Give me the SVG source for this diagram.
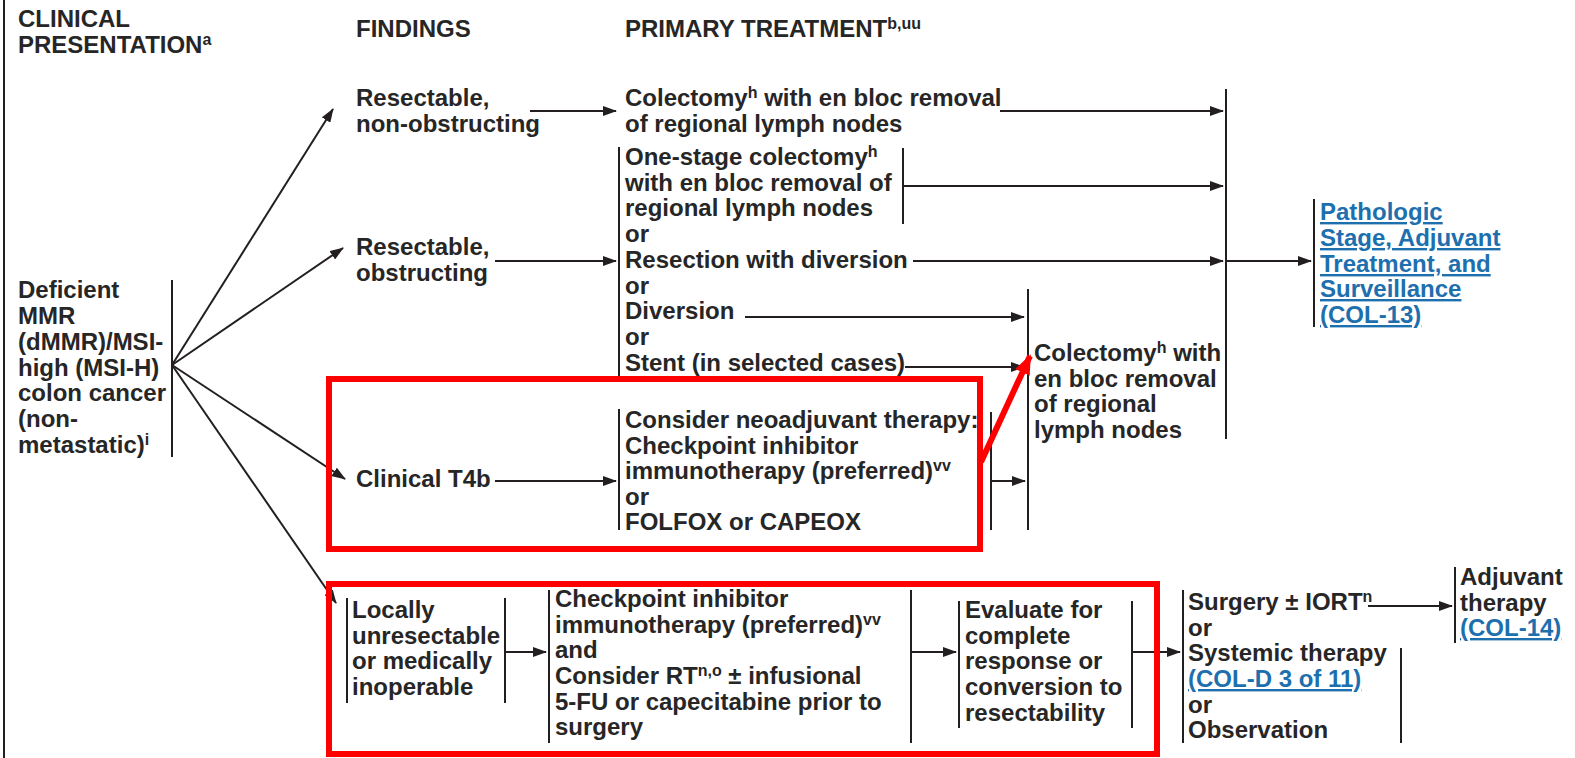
<svg xmlns="http://www.w3.org/2000/svg" width="1575" height="758" viewBox="0 0 1575 758">
<style>
.t{font-family:"Liberation Sans",Arial,sans-serif;font-size:24px;font-weight:bold;fill:#262626}
.s{font-size:16px}
.lk{fill:#1d6fae;text-decoration:underline}
.ln{stroke:#231f20;stroke-width:2;fill:none}
.a{marker-end:url(#ah)}
.red{stroke:#ff0000;stroke-width:6;fill:none}
</style>
<defs>
<marker id="ah" markerUnits="userSpaceOnUse" markerWidth="14" markerHeight="10" refX="13" refY="5" orient="auto"><path d="M0,0 L14,5 L0,10 z" fill="#231f20"/></marker>
<marker id="rah" markerUnits="userSpaceOnUse" markerWidth="20" markerHeight="16" refX="18" refY="8" orient="auto"><path d="M0,0 L20,8 L0,16 z" fill="#ff0000"/></marker>
</defs>
<rect width="1575" height="758" fill="#fff"/>
<line class="ln" x1="4" y1="0" x2="4" y2="758"/>

<g id="headers" class="t">
<text x="18" y="27">CLINICAL</text>
<text x="18" y="53">PRESENTATION<tspan class="s" dy="-8">a</tspan></text>
<text x="356" y="37">FINDINGS</text>
<text x="625" y="37">PRIMARY TREATMENT<tspan class="s" dy="-8">b,uu</tspan></text>
</g>

<g id="n-presentation" class="t">
<text x="18" y="298">Deficient</text>
<text x="18" y="324">MMR</text>
<text x="18" y="350">(dMMR)/MSI-</text>
<text x="18" y="376">high (MSI-H)</text>
<text x="18" y="401">colon cancer</text>
<text x="18" y="427">(non-</text>
<text x="18" y="453">metastatic)<tspan class="s" dy="-8">i</tspan></text>
<line class="ln" x1="172" y1="280" x2="172" y2="457"/>
</g>

<g id="n-resectable-nonobs" class="t">
<text x="356" y="106">Resectable,</text>
<text x="356" y="132">non-obstructing</text>
</g>
<g id="n-colectomy1" class="t">
<text x="625" y="106">Colectomy<tspan class="s" dy="-8">h</tspan><tspan dy="8"> with en bloc removal</tspan></text>
<text x="625" y="132">of regional lymph nodes</text>
</g>

<g id="n-resectable-obs" class="t">
<text x="356" y="255">Resectable,</text>
<text x="356" y="281">obstructing</text>
</g>
<g id="n-obs-options" class="t">
<line class="ln" x1="619" y1="147" x2="619" y2="376"/>
<text x="625" y="165">One-stage colectomy<tspan class="s" dy="-8">h</tspan></text>
<text x="625" y="191">with en bloc removal of</text>
<text x="625" y="216">regional lymph nodes</text>
<text x="625" y="242">or</text>
<text x="625" y="268">Resection with diversion</text>
<text x="625" y="294">or</text>
<text x="625" y="319">Diversion</text>
<text x="625" y="345">or</text>
<text x="625" y="371">Stent (in selected cases)</text>
<line class="ln" x1="903" y1="148" x2="903" y2="224"/>
</g>

<g id="n-colectomy2" class="t">
<line class="ln" x1="1028" y1="289" x2="1028" y2="530"/>
<text x="1034" y="361">Colectomy<tspan class="s" dy="-8">h</tspan><tspan dy="8"> with</tspan></text>
<text x="1034" y="387">en bloc removal</text>
<text x="1034" y="412">of regional</text>
<text x="1034" y="438">lymph nodes</text>
</g>

<g id="n-pathologic" class="t">
<line class="ln" x1="1314" y1="199" x2="1314" y2="327"/>
<text class="lk" x="1320" y="220">Pathologic </text>
<text class="lk" x="1320" y="246">Stage, Adjuvant </text>
<text class="lk" x="1320" y="272">Treatment, and </text>
<text class="lk" x="1320" y="297">Surveillance</text>
<text class="lk" x="1320" y="323">(COL-13)</text>
</g>

<g id="n-t4b" class="t">
<text x="356" y="487">Clinical T4b</text>
</g>
<g id="n-neoadjuvant" class="t">
<line class="ln" x1="619" y1="409" x2="619" y2="530"/>
<text x="625" y="428">Consider neoadjuvant therapy:</text>
<text x="625" y="454">Checkpoint inhibitor</text>
<text x="625" y="479">immunotherapy (preferred)<tspan class="s" dy="-8">vv</tspan></text>
<text x="625" y="505">or</text>
<text x="625" y="530">FOLFOX or CAPEOX</text>
<line class="ln" x1="991" y1="412" x2="991" y2="530"/>
</g>

<g id="n-locally" class="t">
<line class="ln" x1="347" y1="598" x2="347" y2="703"/>
<text x="352" y="618">Locally</text>
<text x="352" y="644">unresectable</text>
<text x="352" y="669">or medically</text>
<text x="352" y="695">inoperable</text>
<line class="ln" x1="505" y1="598" x2="505" y2="703"/>
</g>
<g id="n-checkpoint" class="t">
<line class="ln" x1="549" y1="590" x2="549" y2="743"/>
<text x="555" y="607">Checkpoint inhibitor</text>
<text x="555" y="633">immunotherapy (preferred)<tspan class="s" dy="-8">vv</tspan></text>
<text x="555" y="658">and</text>
<text x="555" y="684">Consider RT<tspan class="s" dy="-8">n,o</tspan><tspan dy="8"> ± infusional</tspan></text>
<text x="555" y="710">5-FU or capecitabine prior to</text>
<text x="555" y="735">surgery</text>
<line class="ln" x1="911" y1="590" x2="911" y2="743"/>
</g>
<g id="n-evaluate" class="t">
<line class="ln" x1="959" y1="601" x2="959" y2="728"/>
<text x="965" y="618">Evaluate for</text>
<text x="965" y="644">complete</text>
<text x="965" y="669">response or</text>
<text x="965" y="695">conversion to</text>
<text x="965" y="721">resectability</text>
<line class="ln" x1="1132" y1="601" x2="1132" y2="728"/>
</g>
<g id="n-surgery" class="t">
<line class="ln" x1="1183" y1="590" x2="1183" y2="743"/>
<text x="1188" y="610">Surgery ± IORT<tspan class="s" dy="-8">n</tspan></text>
<text x="1188" y="636">or</text>
<text x="1188" y="661">Systemic therapy</text>
<text class="lk" x="1188" y="687">(COL-D 3 of 11)</text>
<text x="1188" y="713">or</text>
<text x="1188" y="738">Observation</text>
<line class="ln" x1="1401" y1="648" x2="1401" y2="743"/>
</g>
<g id="n-adjuvant" class="t">
<line class="ln" x1="1455" y1="567" x2="1455" y2="643"/>
<text x="1460" y="585">Adjuvant</text>
<text x="1460" y="611">therapy</text>
<text class="lk" x="1460" y="636">(COL-14)</text>
</g>

<g id="connectors">
<line class="ln a" x1="172" y1="365" x2="333" y2="109"/>
<line class="ln a" x1="172" y1="365" x2="343" y2="248"/>
<line class="ln a" x1="172" y1="365" x2="345" y2="479"/>
<line class="ln a" x1="172" y1="365" x2="336" y2="603"/>
<line class="ln a" x1="530" y1="111" x2="616" y2="111"/>
<line class="ln a" x1="1000" y1="111" x2="1223" y2="111"/>
<line class="ln a" x1="495" y1="261" x2="616" y2="261"/>
<line class="ln a" x1="903" y1="186" x2="1223" y2="186"/>
<line class="ln a" x1="913" y1="261" x2="1223" y2="261"/>
<line class="ln a" x1="745" y1="317" x2="1024" y2="317"/>
<line class="ln a" x1="905" y1="367" x2="1024" y2="367"/>
<line class="ln" x1="1226" y1="89" x2="1226" y2="439"/>
<line class="ln a" x1="1226" y1="261" x2="1311" y2="261"/>
<line class="ln a" x1="495" y1="481" x2="616" y2="481"/>
<line class="ln a" x1="991" y1="481" x2="1025" y2="481"/>
<line class="ln a" x1="505" y1="652" x2="546" y2="652"/>
<line class="ln a" x1="911" y1="652" x2="956" y2="652"/>
<line class="ln a" x1="1132" y1="652" x2="1180" y2="652"/>
<line class="ln a" x1="1368" y1="606" x2="1452" y2="606"/>
</g>

<g id="highlights">
<rect class="red" x="329" y="379" width="651" height="170"/>
<rect class="red" x="329" y="584" width="828" height="170"/>
<line class="red" x1="981" y1="462" x2="1030" y2="356" style="marker-end:url(#rah)"/>
</g>
</svg>
